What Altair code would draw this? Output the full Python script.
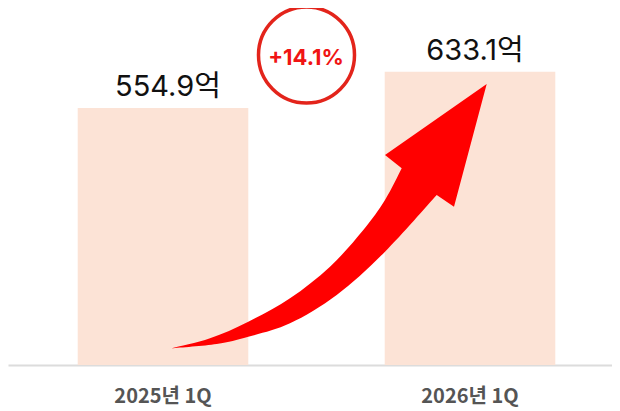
import altair as alt
import pandas as pd

# ---- data ----
categories = ["2025년 1Q", "2026년 1Q"]
values = [554.9, 633.1]
unit = "억"

change = (values[1] / values[0] - 1) * 100
change_label = f"+{change:.1f}%"

df = pd.DataFrame({
    "period": categories,
    "value": values,
    "label": [f"{v:.1f}{unit}" for v in values],
})

# ---- decorative arrow outline (shape, page pixels) ----
ORIGIN = (8, 8)
upper = [(171.7, 348.3), (210, 338.3), (248.3, 321.7), (290, 298.3), (330, 266.7),
         (363.3, 230), (385, 200), (401.7, 168.3)]
lower = [(171.7, 348.3), (216.7, 344), (248.3, 336.7), (290, 323.3), (336.7, 295),
         (385, 251.7), (436.7, 195)]
head = [(454, 206.7), (486.7, 84), (385, 155)]

allpts = upper + lower + head
xs = [p[0] for p in allpts]
ys = [p[1] for p in allpts]
cx, cy = (min(xs) + max(xs)) / 2, (min(ys) + max(ys)) / 2
r = max(max(xs) - min(xs), max(ys) - min(ys)) / 2


def norm(p):
    return ((p[0] - cx) / r, (p[1] - cy) / r)


def fmt(p):
    return f"{p[0]:.4f},{p[1]:.4f}"


def catmull(points):
    pts = [norm(p) for p in points]
    segs = []
    n = len(pts)
    for i in range(n - 1):
        p0 = pts[i - 1] if i > 0 else pts[i]
        p1 = pts[i]
        p2 = pts[i + 1]
        p3 = pts[i + 2] if i + 2 < n else pts[i + 1]
        c1 = (p1[0] + (p2[0] - p0[0]) / 6, p1[1] + (p2[1] - p0[1]) / 6)
        c2 = (p2[0] - (p3[0] - p1[0]) / 6, p2[1] - (p3[1] - p1[1]) / 6)
        segs.append(f"C{fmt(c1)} {fmt(c2)} {fmt(p2)}")
    return " ".join(segs)


path = "M" + fmt(norm(lower[0])) + " " + catmull(lower)
for p in head:
    path += " L" + fmt(norm(p))
path += " L" + fmt(norm(upper[-1])) + " " + catmull(list(reversed(upper))) + " Z"

FONT = "Inter, 'Noto Sans CJK KR', sans-serif"
KFONT = "'Noto Sans CJK KR', sans-serif"

W, H = 604, 357

x_scale = alt.Scale(paddingInner=0.4443, paddingOuter=0.2059, align=0.5514)
y_scale = alt.Scale(domain=[0, 771], nice=False, zero=True)

base = alt.Chart(df)

bars = base.mark_bar(color="#fce3d6").encode(
    x=alt.X("period:N", scale=x_scale, sort=categories,
            axis=alt.Axis(title=None, labelAngle=0, ticks=False, tickSize=0,
                          domainColor="#dcdcdc", domainWidth=2,
                          labelFont=KFONT, labelFontWeight="bold", labelFontSize=20,
                          labelColor="#555555", labelPadding=37,
                          labelBaseline="alphabetic")),
    y=alt.Y("value:Q", scale=y_scale, axis=None),
)

texts = base.mark_text(font=FONT, fontSize=29, color="#111111",
                       baseline="alphabetic", dy=-12, dx=5).encode(
    x=alt.X("period:N", scale=x_scale, sort=categories),
    y=alt.Y("value:Q", scale=y_scale),
    text="label:N",
)

ann = alt.Chart(pd.DataFrame({"change": [change_label]}))

arrow = ann.mark_point(shape=path, filled=True, color="#ff0000", opacity=1,
                       strokeWidth=0).encode(
    x=alt.value(cx - ORIGIN[0]),
    y=alt.value(cy - ORIGIN[1]),
    size=alt.value((2 * r) ** 2),
)

circle = ann.mark_point(shape="circle", filled=False, color="#e3241b", opacity=1,
                        strokeWidth=3.5).encode(
    x=alt.value(306.5 - ORIGIN[0]),
    y=alt.value(55 - ORIGIN[1]),
    size=alt.value(96 ** 2),
)

pct = ann.mark_text(font=FONT, fontSize=22, fontWeight="bold", color="#f01414",
                    baseline="alphabetic", align="center").encode(
    x=alt.value(306 - ORIGIN[0]),
    y=alt.value(65 - ORIGIN[1]),
    text="change:N",
)

chart = alt.layer(bars, texts, arrow, circle, pct).properties(
    width=W, height=H,
    autosize=alt.AutoSizeParams(type="none"),
    padding={"left": 0, "top": 0, "right": 0, "bottom": 46},
).configure_view(stroke=None)

chart.save("out.html", embed_options={"renderer": "svg", "actions": False})
